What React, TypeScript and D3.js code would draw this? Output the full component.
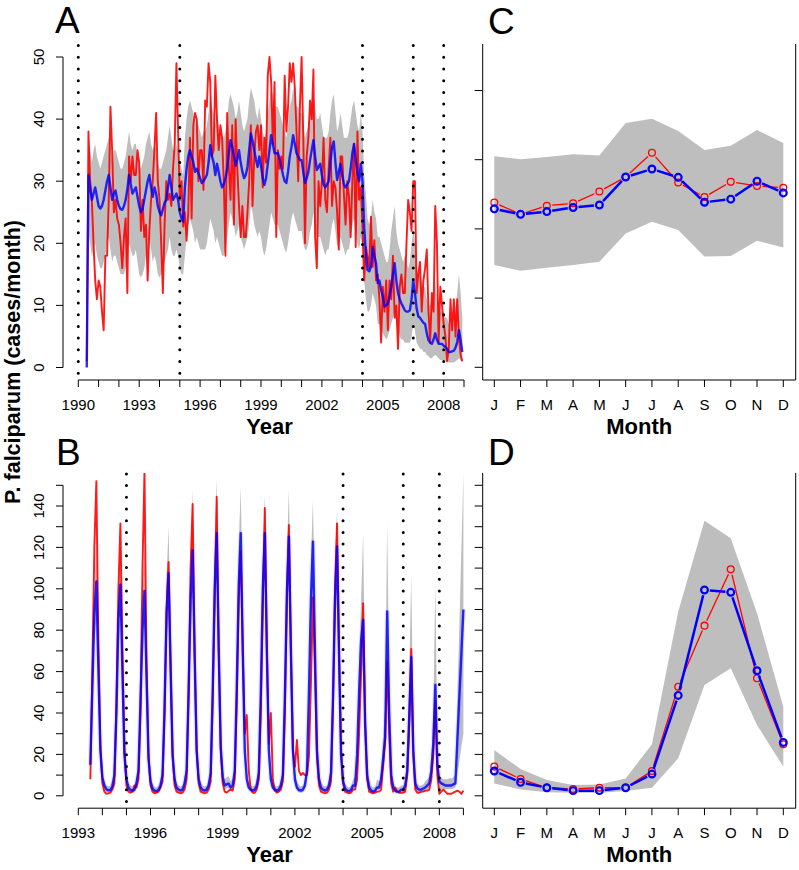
import React from "react";
import * as d3 from "d3";

// ---------------- DATA ----------------
// Intervention dates (dotted vertical lines)
const interventionYears = [1990, 1995, 2004, 2006.5, 2008];

// Panel A: monthly series, June 1990 .. Dec 2008
const aStartYear = 1990 + 5 / 12;
const aObs = [
  1, 38, 30, 27, 20, 14, 11,
  14, 13, 9, 6, 18, 18, 27, 42, 35, 25, 27, 24,
  23, 20, 16, 21, 24, 12, 34, 30, 34, 31, 31, 35,
  33, 22, 27, 21, 23, 14, 22, 27, 30, 35, 41, 30,
  27, 20, 12, 23, 30, 27, 28, 26, 32, 36, 49, 38,
  27, 30, 22.7, 25, 20.4, 25, 37, 24, 39, 41, 40, 30,
  35, 35, 28.6, 43, 42, 49, 46, 34, 35, 47, 40, 35,
  39, 37, 30, 18, 41, 32, 27, 39, 23, 40, 32, 26,
  21, 26, 21, 21, 25, 30, 39, 26, 34, 38, 39, 35,
  39, 29, 37, 33, 47, 50, 46, 36, 46, 21, 35, 32,
  34, 32, 47, 38, 42, 49, 46, 49, 45, 38, 30, 42,
  50, 37, 20, 34, 37, 43, 40, 48, 21, 16, 30, 26,
  30, 37, 27, 25, 32, 37, 26, 30, 29, 25, 19, 34,
  34, 28, 23, 30, 27.5, 21, 30, 36, 19.4, 38, 27, 29,
  22.6, 14, 19.4, 17.8, 16, 24.3, 16.2, 20.5, 14, 15, 11, 4,
  13, 9, 14, 6, 14, 11, 18, 8, 10, 3, 13, 15,
  12, 12, 20, 27, 25, 22, 30, 30, 12, 15, 17, 9,
  14, 16, 19, 9, 4, 12, 9, 26, 20, 4, 13, 10,
  7, 5, 1, 3, 11, 6, 11, 5, 11, 5, 2, 1,
];
const aFit = [
  0, 31, 29, 27, 28, 29, 27.5,
  26, 25.6, 26, 27, 28.5, 30, 31, 29, 27, 28, 28.5, 27,
  26, 25.5, 25.4, 26, 27, 28.7, 31, 29.5, 28, 28.5, 29, 27.5,
  26, 25, 25.5, 27, 28.5, 30, 31, 29, 27.5, 29, 28, 26,
  25, 24.5, 25.5, 26.5, 27, 29, 31, 29, 27, 27.5, 28, 27,
  25, 24, 23.5, 29, 32, 34, 35, 34, 33, 31.5, 32, 31.3,
  30.5, 29.7, 30, 30.5, 31, 33, 35.8, 34, 33, 31, 32.8, 31.5,
  30, 29, 29.5, 30.5, 32, 34.5, 36.6, 35.5, 34, 32.5, 33.5, 35,
  33, 31.5, 30.5, 31, 32.3, 35, 37.7, 36.5, 35, 33.5, 32.3, 34,
  32.5, 30.5, 29.4, 30.5, 32.8, 35, 37.4, 36, 34.5, 34.5, 34.5, 33.5,
  32.3, 31, 30, 29.7, 31.5, 34, 35.5, 37.4, 36, 34.5, 34, 33.4,
  33.4, 31.5, 29.7, 30.5, 31.5, 33.4, 35, 36.6, 34, 31.8, 32.3, 32.8,
  31, 29.5, 29, 29.5, 30, 33, 35.5, 36.4, 33, 30.2, 31.5, 32.8,
  31, 29.5, 29, 29.5, 30, 32, 34.5, 36, 33.5, 31.3, 30, 32.8,
  30, 22.6, 18.3, 15.7, 15.5, 16.2, 19.4, 18, 16.8, 13.6, 14, 12.5,
  11.4, 9.8, 10, 10.3, 11.5, 13, 15, 16.8, 14, 12, 11, 10.3,
  9.8, 9.2, 9, 9, 9.2, 11, 14, 12, 9.5, 8.2, 8, 7.6,
  7.2, 7, 5.5, 4.4, 4, 3.8, 4.5, 5.5, 4.5, 3.8, 3.8, 3.8,
  3.5, 3.3, 3, 2.5, 2.5, 2.6, 2.7, 3.2, 4.1, 6, 4.5, 2.5,
];
const aHi = [
  1,
  36, 35, 33, 35, 36, 34, 33, 32, 33, 34, 35, 36,
  37, 36, 33, 35, 35, 34, 33, 32, 32, 33, 34, 36,
  38, 36, 35, 36, 36, 34, 33, 32, 33, 34, 36, 37,
  38, 36, 35, 36, 35, 33, 32, 32, 33, 34, 35, 37,
  39, 37, 35, 35, 36, 35, 33, 32, 31, 37, 40, 42,
  43, 42, 41, 39, 40, 39, 38, 37, 38, 38, 39, 41,
  44, 42, 41, 39, 41, 39, 38, 37, 37, 38, 40, 43,
  44, 43, 42, 40, 41, 43, 41, 39, 38, 39, 40, 43,
  45, 44, 43, 41, 40, 42, 40, 38, 37, 38, 41, 43,
  45, 44, 42, 42, 42, 41, 40, 39, 38, 37, 39, 42,
  43, 45, 44, 42, 42, 41, 41, 39, 37, 38, 39, 41,
  43, 44, 42, 40, 40, 41, 39, 37, 37, 37, 38, 41,
  43, 44, 41, 38, 39, 41, 39, 37, 37, 37, 38, 40,
  42, 43, 41, 39, 38, 41, 38,
  31, 28, 24, 23, 24, 27, 25, 24, 21, 21, 20, 19,
  18, 17, 17, 19, 22, 24, 26, 22, 20, 19, 18, 17,
  18, 17, 16, 17, 20, 22, 20, 16, 15, 15, 14, 13,
  13, 11, 10, 10, 11, 12, 14, 11, 10, 9, 9, 9,
  8, 8, 7, 8, 8, 9, 10, 12, 15, 12, 8,
];
const aLo = [
  0,
  22, 20, 18, 19, 20, 18, 17, 16, 16, 17, 18, 20,
  21, 19, 17, 18, 18, 17, 16, 15, 15, 15, 16, 18,
  20, 19, 18, 18, 19, 17, 15, 14.5, 15, 16, 18, 19,
  21, 19, 17, 18, 17, 15, 14.5, 15, 16, 17, 18, 19,
  21, 19, 18, 18, 19, 18, 16, 15, 15, 18, 21, 23,
  24, 23, 22, 20, 21, 20, 19, 19, 19, 19, 20, 22,
  24, 23, 22, 20, 21, 20, 19, 18, 18, 19, 21, 23,
  25, 24, 23, 21, 22, 23, 21, 20, 19, 20, 21, 23,
  26, 25, 23, 22, 21, 22, 21, 19, 18, 19, 21, 23,
  25, 24, 23, 23, 23, 22, 21, 20, 19, 18.5, 20, 22,
  24, 25, 24, 23, 22, 22, 22, 20, 19, 19, 20, 22,
  23, 25, 22, 21, 21, 21, 20, 19, 18, 19, 19, 21,
  23, 24, 22, 19.5, 20, 21, 20, 19, 18, 19, 19, 21,
  23, 24, 22, 20, 19, 21, 19,
  14, 11, 9, 9, 10, 12, 11, 10, 7, 7, 6, 5.5,
  5, 4.5, 5, 6, 7, 8, 9, 7, 6, 5, 4.5, 4.5,
  4, 4, 4, 4, 5, 7, 6, 4, 3.5, 3, 3, 2.5,
  2.5, 2, 1.8, 1.5, 1.5, 1.8, 2, 1.8, 1.5, 1.2, 1.2, 1.2,
  1, 1, 0.8, 0.8, 0.8, 0.8, 1, 1.2, 1.5, 1.2, 0.8,
];

// Panel B: monthly series, July 1993 .. Jan 2009 (rows = Jul..Jun seasons)
const bStartYear = 1993.5;
const bObs = [
  8, 60, 120, 152, 75, 25, 6, 2, 1, 1.2, 1.5, 3,
  6, 45, 100, 131.6, 70, 22, 5, 2, 1.5, 2, 5, 4,
  8, 40, 110, 157, 65, 20, 5, 2, 1.2, 1.5, 2, 4,
  7, 40, 90, 113, 65, 20, 5, 2, 1.5, 1.2, 1.5, 3,
  8, 50, 110, 141, 70, 22, 6, 2, 1.5, 1.2, 1.5, 3,
  7, 45, 95, 144.5, 70, 22, 6, 2, 1.5, 2.5, 3, 2.5,
  8, 45, 95, 118, 70, 30, 39, 12, 3, 1.5, 1.5, 3,
  8, 40, 91, 139, 72, 25, 40, 8, 2.5, 1.5, 2, 3,
  7, 40, 95, 130.8, 70, 22, 14, 27, 12, 10, 11, 10,
  10, 19, 55, 96, 60, 18, 5, 2, 1.5, 1.2, 1.5, 3,
  7, 45, 100, 131.6, 70, 22, 6, 2, 1.5, 1.2, 1.5, 3,
  3, 8, 30, 60, 93, 35, 8, 2, 1.5, 1.2, 1.5, 2,
  2, 3, 15, 27, 65, 30, 6, 2, 4, 2, 1.5, 1.5,
  1.5, 2, 10, 35, 71, 20, 3, 1.5, 1.5, 2, 2, 2.5,
  2.5, 3, 8, 20, 46, 10, 1, 2, 3, 2, 1, 1,
  1, 1.5, 2, 2.5, 2, 1, 2.5,
];
const bFit = [
  15, 52, 88, 103.5, 62, 22, 9, 5, 3.2, 2.6, 2.8, 4.5,
  10, 40, 85, 102, 60, 20, 8, 4, 2.8, 2.5, 3, 6,
  12, 45, 80, 99, 58, 18, 7, 3.5, 2.5, 2.3, 2.8, 5,
  10, 42, 88, 107.5, 62, 20, 8, 4, 3, 2.5, 3, 6,
  12, 50, 95, 118.7, 68, 22, 8, 4, 2.8, 2.5, 3, 5,
  11, 50, 100, 126.8, 72, 24, 9, 5, 5.6, 5.8, 4, 5,
  12, 52, 102, 126.8, 70, 22, 8, 4, 3, 2.5, 3, 5,
  11, 50, 100, 126.8, 70, 22, 8, 4, 3, 2.5, 3, 5,
  10, 48, 98, 125.2, 70, 22, 8, 4, 2.8, 2.5, 3, 5,
  12, 50, 95, 122.8, 70, 22, 8, 4, 3, 2.5, 3, 5,
  11, 48, 95, 120.4, 68, 20, 7, 3.5, 2.5, 2.2, 2.8, 5,
  5, 20, 50, 75, 85, 35, 10, 4, 2.5, 2, 2.5, 4,
  4, 8, 18, 28.5, 89, 40, 10, 4, 2.5, 2, 2, 3,
  3, 5, 12, 38, 67, 22, 6, 3.5, 3, 3, 3.5, 4,
  5, 6, 12, 25, 53.5, 15, 7, 6, 5.5, 5, 5, 5,
  5, 5.5, 6, null, null, null, 90,
];
const bHi = [
  20, 65, 100, 125, 80, 30, 12, 7, 5, 4.5, 5, 8,
  15, 55, 100, 123, 78, 28, 12, 6, 5, 4.5, 5, 9,
  17, 58, 98, 120, 75, 26, 11, 6, 4.5, 4, 5, 8,
  15, 55, 105, 130, 80, 28, 12, 6, 5, 4.5, 5, 9,
  17, 65, 115, 148, 88, 30, 12, 7, 5, 4.5, 5, 8,
  16, 65, 120, 153, 92, 32, 13, 8, 9, 9.5, 7, 8,
  17, 67, 122, 149, 90, 30, 12, 7, 5, 4.5, 5, 8,
  16, 65, 120, 145, 90, 30, 12, 7, 5, 4.5, 5, 8,
  15, 63, 118, 148, 90, 30, 12, 7, 5, 4.5, 5, 8,
  17, 65, 115, 143, 88, 30, 12, 7, 5, 4.5, 5, 8,
  16, 62, 115, 138, 86, 28, 11, 6, 4.5, 4, 5, 8,
  9, 25, 65, 95, 127, 55, 18, 8, 5, 4, 4.5, 8,
  7, 12, 30, 42, 132, 58, 16, 7, 4.5, 4, 4, 5,
  5, 8, 22, 60, 106, 38, 10, 6, 5, 5, 5.5, 7,
  8, 9, 18, 40, 103, 28, 10, 9, 8, 8, 8, 8.5,
  8.5, 9, 10, null, null, null, 156,
];
const bLo = [
  10, 40, 75, 85, 45, 14, 5, 2.5, 1.8, 1.5, 1.7, 3,
  6, 28, 70, 86, 43, 13, 5, 2.5, 1.7, 1.5, 1.7, 3.5,
  8, 33, 63, 83, 42, 12, 4.5, 2.2, 1.5, 1.4, 1.6, 3,
  6, 30, 72, 90, 45, 13, 5, 2.5, 1.8, 1.5, 1.7, 3.5,
  8, 36, 77, 98, 50, 15, 5, 2.5, 1.7, 1.5, 1.7, 3,
  7, 36, 82, 105, 54, 16, 6, 3, 3.5, 3.6, 2.5, 3,
  8, 38, 84, 106, 52, 15, 5, 2.5, 1.8, 1.5, 1.7, 3,
  7, 36, 82, 106, 52, 15, 5, 2.5, 1.8, 1.5, 1.7, 3,
  6, 34, 80, 104, 52, 15, 5, 2.5, 1.7, 1.5, 1.7, 3,
  8, 36, 77, 102, 52, 15, 5, 2.5, 1.8, 1.5, 1.7, 3,
  7, 34, 77, 100, 50, 13, 4.5, 2.2, 1.5, 1.3, 1.6, 3,
  3, 12, 35, 55, 65, 27, 7, 3, 1.8, 1.2, 1.5, 3,
  2.5, 5, 12, 18, 65, 27, 6, 2.5, 1.5, 1.2, 1.2, 1.8,
  1.8, 3, 8, 25, 48, 16, 3.5, 1.8, 1.5, 1.5, 1.8, 2.5,
  3, 4, 8, 16, 38, 9, 3.5, 3, 2.8, 3, 3.2, 3.2,
  3.2, 3.5, 4, null, null, null, 30,
];

// Panels C and D: mean seasonal pattern by month
const monthLabels = ["J", "F", "M", "A", "M", "J", "J", "A", "S", "O", "N", "D"];
const cObs = [23.8, 22.1, 23.35, 23.7, 25.4, 27.5, 31.0, 26.7, 24.6, 26.8, 26.2, 25.95];
const cFit = [22.9, 22.1, 22.5, 23.1, 23.45, 27.5, 28.65, 27.45, 23.85, 24.3, 26.9, 25.2];
const cHi = [30.5, 30.05, 30.4, 30.8, 30.6, 35.3, 35.9, 34.15, 31.4, 32.0, 34.3, 32.4];
const cLo = [14.8, 13.95, 14.4, 14.8, 15.25, 19.35, 21.05, 19.85, 16.0, 16.1, 18.3, 17.3];
const dObs = [14.1, 8.1, 3.9, 3.3, 3.9, 3.9, 12.0, 52.7, 82.2, 109.4, 56.8, 24.9];
const dFit = [12.0, 6.5, 3.9, 2.5, 2.5, 3.9, 10.5, 48.5, 99.4, 98.3, 60.4, 25.8];
const dHi = [22.1, 12.9, 7.6, 5.2, 5.5, 8.4, 24.9, 88.9, 132.9, 124.4, 88.2, 43.0];
const dLo = [6.0, 3.1, 1.7, 1.5, 1.5, 2.3, 3.9, 18.1, 53.5, 61.6, 34.2, 14.1];

// Tick labels
const aYearLabels = [1990, 1993, 1996, 1999, 2002, 2005, 2008];
const bYearLabels = [1993, 1996, 1999, 2002, 2005, 2008];
const aYLabels = [0, 10, 20, 30, 40, 50];
const bYLabels = [0, 20, 40, 60, 80, 100, 120, 140];

// ---------------- STYLE ----------------
const FONT = "'Liberation Sans', Arial, Helvetica, sans-serif";
const RED = "#ff0000";
const BLUE = "#0000ff";
const GRAY = "#bebebe";

type TSProps = {
  id: string;
  obs: (number | null)[];
  fit: (number | null)[];
  lo: (number | null)[];
  hi: (number | null)[];
  start: number;
  x: d3.ScaleLinear<number, number>;
  y: d3.ScaleLinear<number, number>;
  top: number;
  bottom: number;
  left: number;
  right: number;
  yearTicks: number[];
  yearLabels: number[];
  yTicks: number[];
  yLabels: number[];
  halo: boolean;
  letter: string;
  letterY: number;
  letterX: number;
};

function TimeSeries(p: TSProps) {
  const { x, y } = p;
  const series = (arr: (number | null)[]) =>
    arr
      .map((v, i) => ({ t: p.start + i / 12, v }))
      .filter((d) => d.v !== null && d.v !== undefined) as { t: number; v: number }[];
  const band = p.lo
    .map((l, i) => ({ t: p.start + i / 12, l, h: p.hi[i] }))
    .filter((d) => d.l !== null && d.h !== null) as { t: number; l: number; h: number }[];
  const area = d3
    .area<{ t: number; l: number; h: number }>()
    .x((d) => x(d.t))
    .y0((d) => y(d.l))
    .y1((d) => y(d.h));
  const line = d3
    .line<{ t: number; v: number }>()
    .x((d) => x(d.t))
    .y((d) => y(d.v));
  const [d0, d1] = x.domain();
  const [y0, y1] = y.domain();
  const axisY = p.bottom;
  return (
    <g>
      <defs>
        <clipPath id={p.id}>
          <rect x={p.left} y={p.top} width={p.right - p.left} height={p.bottom - p.top} />
        </clipPath>
      </defs>
      <g clipPath={`url(#${p.id})`}>
        <path d={area(band) || ""} fill={GRAY} stroke="none" />
        {p.halo && (
          <path d={line(series(p.fit)) || ""} fill="none" stroke="#9a9af0" strokeOpacity={0.22} strokeWidth={5} strokeLinejoin="round" />
        )}
        <path d={line(series(p.obs)) || ""} fill="none" stroke={RED} strokeOpacity={0.9} strokeWidth={1.9} strokeLinejoin="round" />
        <path d={line(series(p.fit)) || ""} fill="none" stroke={BLUE} strokeOpacity={0.82} strokeWidth={2.4} strokeLinejoin="round" />
      </g>
      {interventionYears
        .filter((yr) => yr >= d0 && yr <= d1)
        .map((yr) => (
          <line key={yr} x1={x(yr)} x2={x(yr)} y1={p.top + 1} y2={p.bottom} stroke="#000" strokeWidth={3} strokeDasharray="0 11.7" strokeLinecap="round" />
        ))}
      {/* y axis */}
      <line x1={p.left} x2={p.left} y1={y(y0)} y2={y(y1)} stroke="#000" strokeWidth={1} />
      {p.yTicks.map((v) => (
        <line key={v} x1={p.left - 7} x2={p.left} y1={y(v)} y2={y(v)} stroke="#000" strokeWidth={1} />
      ))}
      {p.yLabels.map((v) => (
        <text key={v} transform={`translate(44,${y(v)}) rotate(-90)`} textAnchor="middle" fontSize={15} fontFamily={FONT}>
          {v}
        </text>
      ))}
      {/* x axis */}
      <line x1={x(d0)} x2={x(d1)} y1={axisY} y2={axisY} stroke="#000" strokeWidth={1} />
      {p.yearTicks.map((v) => (
        <line key={v} x1={x(v)} x2={x(v)} y1={axisY} y2={axisY + 7} stroke="#000" strokeWidth={1} />
      ))}
      {p.yearLabels.map((v) => (
        <text key={v} x={x(v)} y={axisY + 30} textAnchor="middle" fontSize={15} fontFamily={FONT}>
          {v}
        </text>
      ))}
      <text x={(p.left + p.right) / 2} y={axisY + 54} textAnchor="middle" fontSize={22} fontWeight="bold" fontFamily={FONT}>
        Year
      </text>
      <text x={p.letterX} y={p.letterY} fontSize={37} fontFamily={FONT}>
        {p.letter}
      </text>
    </g>
  );
}

type SeasonProps = {
  obs: number[];
  fit: number[];
  lo: number[];
  hi: number[];
  y: d3.ScaleLinear<number, number>;
  top: number;
  bottom: number;
  yTicks: number[];
  letter: string;
  letterY: number;
};

const xMonth = d3.scaleLinear().domain([1, 12]).range([494.3, 783.3]);
const boxLeft = 482.7;
const boxRight = 795.7;

function gappedSegments(pts: [number, number][], gap: number) {
  const segs: string[] = [];
  for (let i = 1; i < pts.length; i++) {
    const [ax, ay] = pts[i - 1];
    const [bx, by] = pts[i];
    const dx = bx - ax;
    const dy = by - ay;
    const len = Math.hypot(dx, dy);
    if (len <= 2 * gap) continue;
    const ux = dx / len;
    const uy = dy / len;
    segs.push(`M${ax + ux * gap},${ay + uy * gap}L${bx - ux * gap},${by - uy * gap}`);
  }
  return segs.join("");
}

function Season(p: SeasonProps) {
  const { y } = p;
  const months = d3.range(1, 13);
  const bandData = months.map((m, i) => ({ m, l: p.lo[i], h: p.hi[i] }));
  const area = d3
    .area<{ m: number; l: number; h: number }>()
    .x((d) => xMonth(d.m))
    .y0((d) => y(d.l))
    .y1((d) => y(d.h));
  const obsPts = months.map((m, i) => [xMonth(m), y(p.obs[i])] as [number, number]);
  const fitPts = months.map((m, i) => [xMonth(m), y(p.fit[i])] as [number, number]);
  const r = 3.4;
  return (
    <g>
      <path d={area(bandData) || ""} fill={GRAY} />
      <path d={gappedSegments(obsPts, r + 2)} stroke={RED} strokeWidth={1.3} fill="none" />
      {obsPts.map(([cx, cy], i) => (
        <circle key={i} cx={cx} cy={cy} r={r} fill="none" stroke={RED} strokeWidth={1.3} />
      ))}
      <path d={gappedSegments(fitPts, r + 2)} stroke={BLUE} strokeWidth={2.5} fill="none" />
      {fitPts.map(([cx, cy], i) => (
        <circle key={i} cx={cx} cy={cy} r={r} fill="none" stroke={BLUE} strokeWidth={2.2} />
      ))}
      {/* box: left, bottom, right */}
      <path
        d={`M${boxLeft},${p.top}L${boxLeft},${p.bottom}L${boxRight},${p.bottom}L${boxRight},${p.top}`}
        fill="none"
        stroke="#000"
        strokeWidth={1}
      />
      {p.yTicks.map((v) => (
        <line key={v} x1={boxLeft - 8} x2={boxLeft} y1={y(v)} y2={y(v)} stroke="#000" strokeWidth={1} />
      ))}
      {months.map((m) => (
        <line key={m} x1={xMonth(m)} x2={xMonth(m)} y1={p.bottom} y2={p.bottom + 7} stroke="#000" strokeWidth={1} />
      ))}
      {months.map((m, i) => (
        <text key={m} x={xMonth(m)} y={p.bottom + 30} textAnchor="middle" fontSize={15} fontFamily={FONT}>
          {monthLabels[i]}
        </text>
      ))}
      <text x={(boxLeft + boxRight) / 2} y={p.bottom + 54} textAnchor="middle" fontSize={22} fontWeight="bold" fontFamily={FONT}>
        Month
      </text>
      <text x={488} y={p.letterY} fontSize={37} fontFamily={FONT}>
        {p.letter}
      </text>
    </g>
  );
}

export default function App() {
  const xA = d3.scaleLinear().domain([1990, 2009]).range([78.3, 464]);
  const yA = d3.scaleLinear().domain([0, 50]).range([367.5, 57]);
  const xB = d3.scaleLinear().domain([1993, 2009]).range([78.3, 463.4]);
  const yB = d3.scaleLinear().domain([0, 150]).range([795.8, 485.3]);
  const yC = d3.scaleLinear().domain([0, 45]).range([367.3, 55.9]);
  const yD = yB;

  return (
    <svg
      width={799}
      height={870}
      viewBox="0 0 799 870"
      style={{ position: "absolute", left: 0, top: 0, background: "#fff", display: "block" }}
      fontFamily={FONT}
    >
      <rect x={0} y={0} width={799} height={870} fill="#fff" />
      <TimeSeries
        id="clipA"
        obs={aObs}
        fit={aFit}
        lo={aLo}
        hi={aHi}
        start={aStartYear}
        x={xA}
        y={yA}
        top={44.6}
        bottom={380}
        left={63}
        right={476}
        yearTicks={d3.range(1990, 2010)}
        yearLabels={aYearLabels}
        yTicks={yA.ticks(5)}
        yLabels={aYLabels}
        halo={false}
        letter="A"
        letterX={55}
        letterY={33}
      />
      <TimeSeries
        id="clipB"
        obs={bObs}
        fit={bFit}
        lo={bLo}
        hi={bHi}
        start={bStartYear}
        x={xB}
        y={yB}
        top={472.9}
        bottom={808.2}
        left={63}
        right={476}
        yearTicks={d3.range(1993, 2010)}
        yearLabels={bYearLabels}
        yTicks={d3.range(0, 151, 10)}
        yLabels={bYLabels}
        halo={true}
        letter="B"
        letterX={56}
        letterY={465}
      />
      <Season obs={cObs} fit={cFit} lo={cLo} hi={cHi} y={yC} top={44} bottom={380} yTicks={d3.range(0, 41, 10)} letter="C" letterY={34} />
      <Season obs={dObs} fit={dFit} lo={dLo} hi={dHi} y={yD} top={472.9} bottom={808.2} yTicks={d3.range(0, 151, 10)} letter="D" letterY={465} />
      <text
        transform="translate(20,362) rotate(-90)"
        textAnchor="middle"
        fontSize={21.5}
        fontWeight="bold"
        fontFamily={FONT}
      >
        P. falciparum (cases/month)
      </text>
    </svg>
  );
}
